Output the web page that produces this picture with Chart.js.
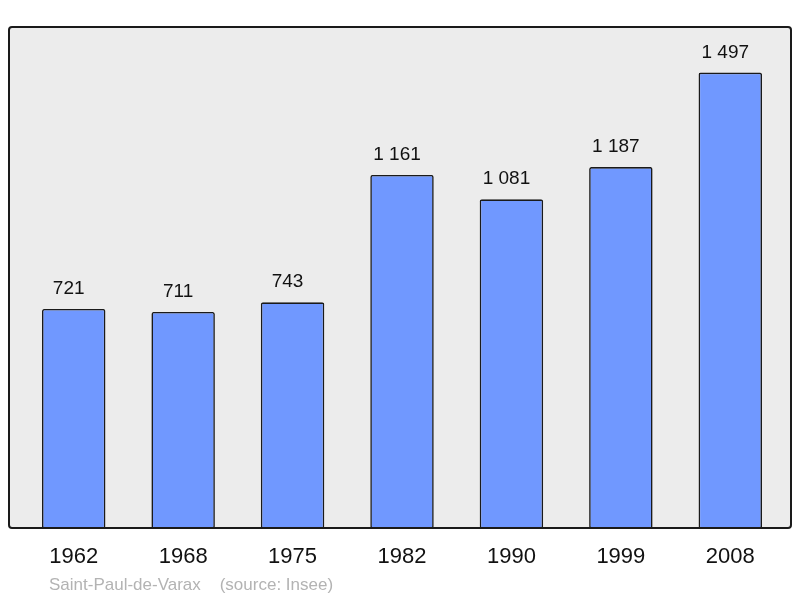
<!DOCTYPE html>
<html>
<head>
<meta charset="utf-8">
<script src="https://cdn.jsdelivr.net/npm/chart.js@4/dist/chart.umd.min.js"></script>
<style>
html,body{margin:0;padding:0;background:#fff;}
#wrap{width:800px;height:598px;position:relative;}
</style>
</head>
<body>
<div id="wrap"><canvas id="c" width="800" height="598"></canvas></div>
<script>
const years = ["1962","1968","1975","1982","1990","1999","2008"];
const population = [721, 711, 743, 1161, 1081, 1187, 1497];
const sourceText = "Saint-Paul-de-Varax    (source: Insee)";

function fmt(n){ return String(n).replace(/\B(?=(\d{3})+(?!\d))/g, " "); }

const framePlugin = {
  id: 'frame',
  beforeDraw(chart){
    const ctx = chart.ctx;
    ctx.save();
    ctx.beginPath();
    ctx.roundRect(9, 27, 782, 501, 3);
    ctx.fillStyle = '#ececec';
    ctx.fill();
    ctx.restore();
  },
  afterDatasetsDraw(chart){
    const ctx = chart.ctx;
    ctx.save();
    ctx.beginPath();
    ctx.roundRect(9, 27, 782, 501, 3);
    ctx.lineWidth = 2;
    ctx.strokeStyle = '#1a1a1a';
    ctx.stroke();
    // value labels
    const meta = chart.getDatasetMeta(0);
    ctx.font = '19px "Liberation Sans", Arial, sans-serif';
    ctx.fillStyle = '#111';
    ctx.textAlign = 'center';
    ctx.textBaseline = 'alphabetic';
    meta.data.forEach((bar, i) => {
      ctx.fillText(fmt(population[i]), bar.x - 5, bar.y - 15);
    });
    // source
    ctx.font = '17px "Liberation Sans", Arial, sans-serif';
    ctx.fillStyle = '#b3b3b3';
    ctx.textAlign = 'left';
    ctx.fillText(sourceText, 49, 590);
    ctx.restore();
  }
};

new Chart(document.getElementById('c'), {
  type: 'bar',
  data: {
    labels: years,
    datasets: [{
      data: population,
      backgroundColor: '#7098ff',
      borderColor: '#1a1a1a',
      borderWidth: 1.6,
      borderRadius: 2,
      borderSkipped: false,
      barPercentage: 0.58,
      categoryPercentage: 1
    }]
  },
  options: {
    responsive: false,
    animation: false,
    events: [],
    layout: { padding: { left: 19, right: 15, top: 27, bottom: 13 } },
    plugins: { legend: { display: false }, tooltip: { enabled: false } },
    scales: {
      x: {
        grid: { display: false, drawTicks: false },
        border: { display: false },
        ticks: { color: '#111', font: { size: 22, family: '"Liberation Sans", Arial, sans-serif' }, padding: 15, maxRotation: 0 }
      },
      y: {
        display: false,
        min: 0,
        max: 1646.7
      }
    }
  },
  plugins: [framePlugin]
});
</script>
</body>
</html>
